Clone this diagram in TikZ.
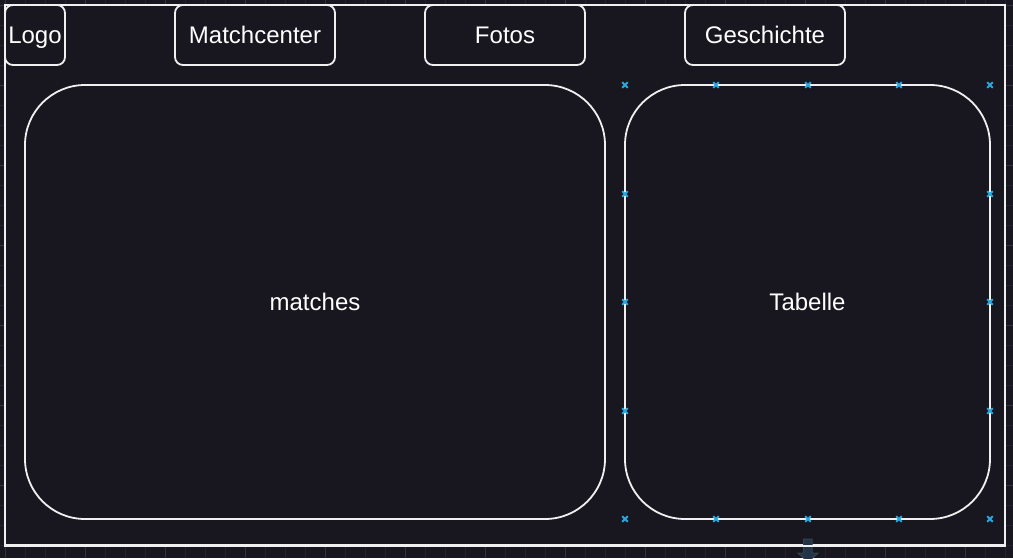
\documentclass[tikz,border=0pt]{standalone}
\usepackage{fontspec}
\setmainfont{Liberation Sans}
\definecolor{bgc}{RGB}{24,22,31}
\definecolor{gridminor}{RGB}{36,34,44}
\definecolor{gridmajor}{RGB}{52,50,60}
\definecolor{linec}{RGB}{240,240,240}
\definecolor{handle}{RGB}{41,168,224}
\definecolor{ghost}{RGB}{34,52,70}
\definecolor{ghostedge}{RGB}{52,66,82}
\tikzset{
  lbl/.style={text=white,font=\fontsize{24}{28}\selectfont,text height=18pt,text depth=2pt},
  navbox/.style={draw=linec,line width=1.8pt,rounded corners=8pt,inner sep=0pt,
    minimum width=160pt,minimum height=60pt,lbl},
  panel/.style={draw=linec,line width=1.8pt,rounded corners=60pt,inner sep=0pt,
    minimum height=434pt,lbl},
  xmark/.style={draw=handle,line width=1.8pt},
  ghoststyle/.style={fill=ghost,draw=ghostedge,line width=1pt},
}
\newcommand{\xmk}[1]{\draw[xmark] ($#1+(-2.8,-2.8)$) -- ($#1+(2.8,2.8)$) ($#1+(-2.8,2.8)$) -- ($#1+(2.8,-2.8)$);}
\usetikzlibrary{calc}
\begin{document}
\begin{tikzpicture}[x=1pt,y=-1pt]
\useasboundingbox (0,0) rectangle (1013,558);
\fill[bgc] (0,0) rectangle (1013,558);
% grid in margins
\foreach \gx in {5,25,...,1013}{\draw[gridminor,line width=0.8pt] (\gx,0) -- (\gx,558);}
\foreach \gy in {5,25,...,558}{\draw[gridminor,line width=0.8pt] (0,\gy) -- (1013,\gy);}
\foreach \gx in {5,85,...,1013}{\draw[gridmajor,line width=0.8pt] (\gx,0) -- (\gx,558);}
\foreach \gy in {5,85,...,558}{\draw[gridmajor,line width=0.8pt] (0,\gy) -- (1013,\gy);}
% outer frame
\node[draw=linec,line width=1.8pt,fill=bgc,inner sep=0pt,minimum width=1000pt,minimum height=540pt] (frame) at (505,275) {};
% faint down arrow (resize handle)
\path[ghoststyle] (803.5,539) -- (812,539) -- (812,553) -- (818,553) -- (808,562) -- (798,553) -- (803.5,553) -- cycle;
\draw[linec,line width=1.8pt] (frame.south west) -- (frame.south east);
% nav boxes
\node[navbox,minimum width=60pt,rounded corners=8pt] (logo) at (35,35) {Logo};
\node[navbox] (match) at (255,35) {Matchcenter};
\node[navbox] (fotos) at (505,35) {Fotos};
\node[navbox] (gesch) at (765,35) {Geschichte};
% panels
\node[panel,minimum width=580pt] (matches) at (315,302) {matches};
\node[panel,minimum width=365pt] (tabelle) at (807.5,302) {Tabelle};
% selection handles
\foreach \hx in {625,716,808,899,990}{\xmk{(\hx,85)}\xmk{(\hx,519)}}
\foreach \hy in {194,302,411}{\xmk{(625,\hy)}\xmk{(990,\hy)}}
\end{tikzpicture}
\end{document}
